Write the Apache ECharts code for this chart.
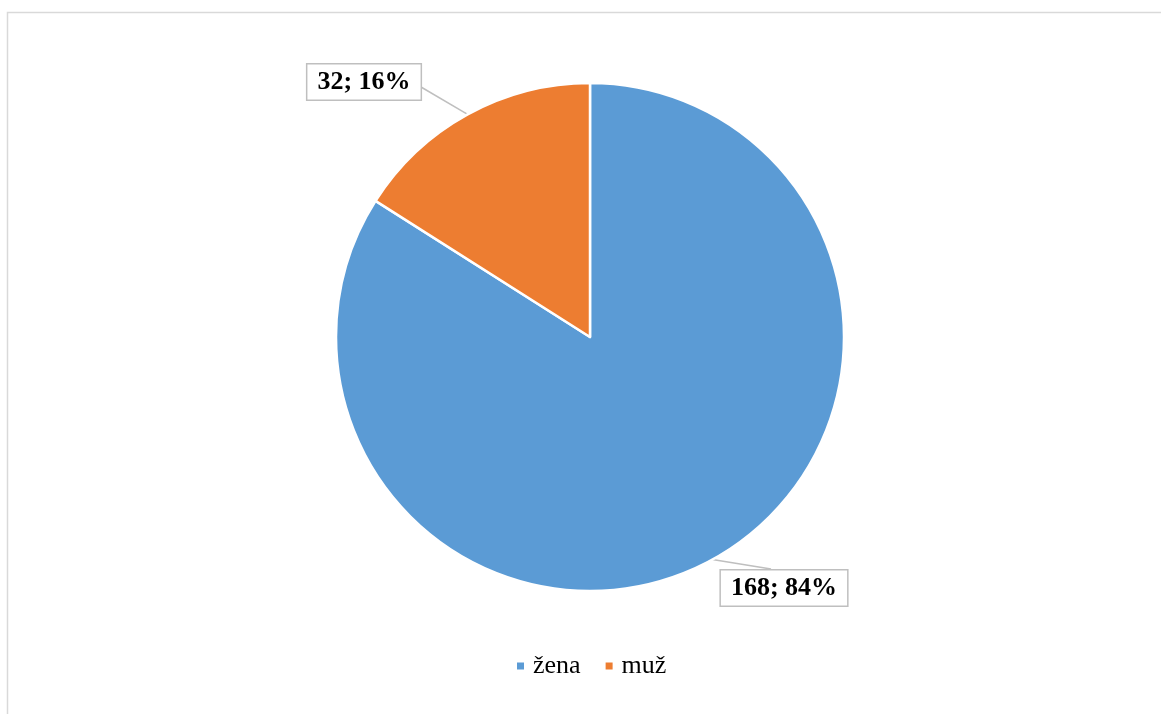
<!DOCTYPE html>
<html>
<head>
<meta charset="utf-8">
<script src="https://cdn.jsdelivr.net/npm/echarts@6/dist/echarts.min.js"></script>
<style>
  html, body { margin: 0; padding: 0; background: #ffffff; }
  #chart { width: 1161px; height: 714px; }
</style>
</head>
<body>
<div id="chart"></div>
<script>
// Respondents by gender
const categories = ['žena', 'muž'];
const counts = [168, 32];
const colors = ['#5B9BD5', '#ED7D31'];
// Label box centres and where each leader line meets its box
const labelCentres = [[784, 588], [364, 82]];
const leaderEnds = [[771, 569], [421, 87]];

const chart = echarts.init(document.getElementById('chart'), null, { renderer: 'canvas' });

const serif = '"Liberation Serif", "Times New Roman", serif';

chart.setOption({
  animation: false,
  backgroundColor: '#ffffff',
  graphic: [{
    type: 'rect',
    silent: true,
    shape: { x: 7.5, y: 12.5, width: 1300, height: 900 },
    style: { fill: 'none', stroke: '#d9d9d9', lineWidth: 1.5 }
  }],
  legend: {
    data: categories,
    left: 510,
    top: 648,
    icon: 'rect',
    itemWidth: 9,
    itemHeight: 9,
    itemGap: 23,
    textStyle: { fontFamily: serif, fontSize: 26, color: '#000000', padding: [0, 0, 0, 3] }
  },
  series: [{
    type: 'pie',
    center: [590, 337],
    radius: [0, 254],
    startAngle: 90,
    clockwise: true,
    data: categories.map((name, i) => ({
      name: name,
      value: counts[i],
      itemStyle: { color: colors[i] }
    })),
    itemStyle: { borderColor: '#ffffff', borderWidth: 2.5 },
    label: {
      show: true,
      position: 'outside',
      formatter: '{c}; {d}%',
      fontFamily: serif,
      fontSize: 26,
      fontWeight: 'bold',
      color: '#000000',
      backgroundColor: '#ffffff',
      borderColor: '#bfbfbf',
      borderWidth: 1.5,
      padding: [5, 10, 4, 10]
    },
    labelLine: {
      show: true,
      length: 10,
      length2: 10,
      lineStyle: { color: '#bfbfbf', width: 1.5 }
    },
    labelLayout: function (params) {
      const i = params.dataIndex;
      const c = labelCentres[i];
      const out = { x: c[0], y: c[1], align: 'center', verticalAlign: 'middle' };
      const pts = params.labelLinePoints;
      if (pts && pts.length) {
        const start = pts[0];
        out.labelLinePoints = [start.slice(), leaderEnds[i].slice(), leaderEnds[i].slice()];
      }
      return out;
    },
    emphasis: { disabled: true }
  }]
});
</script>
</body>
</html>
